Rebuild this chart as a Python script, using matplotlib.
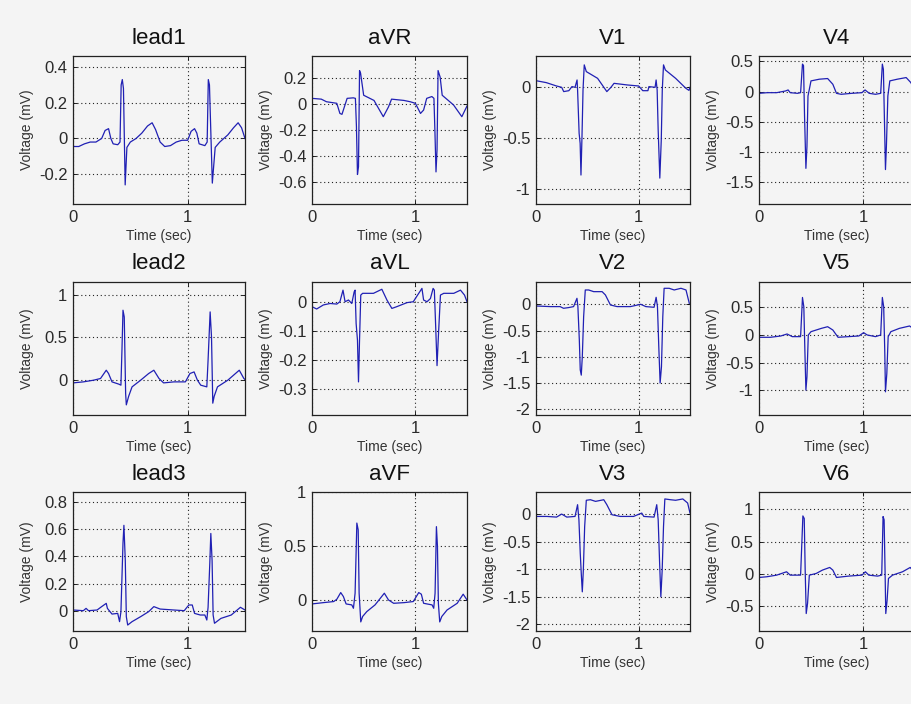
import matplotlib
matplotlib.use('Agg')
import matplotlib.pyplot as plt
from matplotlib.ticker import FormatStrFormatter

plt.rcParams['font.family'] = ['Liberation Sans', 'DejaVu Sans']
plt.rcParams['axes.unicode_minus'] = False

# ---- traces (time in sec, voltage in mV) ----
lead1_t = [0, 0.05, 0.10, 0.15, 0.20, 0.25, 0.28, 0.31, 0.33, 0.35, 0.39, 0.41, 0.42, 0.43, 0.44, 0.455,
           0.47, 0.50, 0.55, 0.60, 0.65, 0.69, 0.72, 0.76, 0.80, 0.85, 0.90, 0.95, 1.00, 1.03, 1.06, 1.08,
           1.10, 1.15, 1.17, 1.18, 1.19, 1.215, 1.24, 1.28, 1.35, 1.40, 1.44, 1.47, 1.50]
lead1_v = [-0.045, -0.045, -0.03, -0.02, -0.02, 0.0, 0.045, 0.055, 0.0, -0.03, -0.035, -0.02, 0.30, 0.33, 0.28, -0.26,
           -0.05, -0.02, 0.0, 0.03, 0.07, 0.088, 0.05, -0.02, -0.045, -0.04, -0.02, -0.01, -0.01, 0.04, 0.055, 0.03,
           -0.03, -0.04, -0.02, 0.33, 0.30, -0.25, -0.05, -0.02, 0.02, 0.06, 0.088, 0.06, 0.0]

aVR_t = [0, 0.09, 0.14, 0.24, 0.27, 0.29, 0.34, 0.40, 0.42, 0.43, 0.44, 0.45, 0.46, 0.47, 0.50, 0.60, 0.69, 0.74,
         0.77, 0.89, 0.95, 1.00, 1.05, 1.08, 1.11, 1.16, 1.18, 1.19, 1.20, 1.21, 1.22, 1.24, 1.26, 1.37, 1.45, 1.50]
aVR_v = [0.046, 0.04, 0.02, 0.008, -0.07, -0.077, 0.046, 0.05, 0.046, -0.17, -0.54, -0.48, 0.26, 0.24, 0.07, 0.03,
         -0.095, -0.02, 0.04, 0.03, 0.02, 0.008, -0.07, -0.044, 0.046, 0.06, 0.046, -0.22, -0.52, -0.35, 0.26, 0.21,
         0.07, -0.005, -0.095, -0.013]

V1_t = [0, 0.10, 0.20, 0.25, 0.27, 0.32, 0.35, 0.38, 0.40, 0.405, 0.42, 0.43, 0.438, 0.448, 0.458, 0.47, 0.49,
        0.60, 0.69, 0.73, 0.76, 0.89, 1.00, 1.04, 1.09, 1.10, 1.16, 1.17, 1.18, 1.19, 1.206, 1.22, 1.23, 1.242,
        1.26, 1.36, 1.46, 1.49, 1.50]
V1_v = [0.065, 0.046, 0.013, 0.0, -0.042, -0.033, 0.007, 0.0, 0.072, -0.026, -0.45, -0.55, -0.86, -0.48, -0.026,
        0.22, 0.154, 0.088, -0.042, 0.0, 0.039, 0.023, 0.013, -0.033, -0.033, 0.007, 0.0, 0.072, -0.026, -0.42,
        -0.89, -0.52, -0.026, 0.22, 0.17, 0.088, -0.01, -0.03, 0.0]

V4_t = [0, 0.08, 0.17, 0.255, 0.28, 0.30, 0.37, 0.40, 0.418, 0.428, 0.438, 0.451, 0.461, 0.471, 0.484, 0.50,
        0.58, 0.66, 0.71, 0.745, 0.79, 0.89, 0.99, 1.02, 1.06, 1.12, 1.17, 1.186, 1.196, 1.206, 1.216, 1.225,
        1.239, 1.258, 1.33, 1.415, 1.46, 1.50]
V4_v = [-0.028, -0.017, -0.017, 0.011, 0.028, -0.017, -0.028, -0.017, 0.456, 0.43, -0.41, -1.27, -0.91, -0.072,
        0.039, 0.178, 0.206, 0.217, 0.122, -0.028, -0.044, -0.028, -0.017, 0.028, -0.028, -0.044, -0.028, 0.456,
        0.37, -0.46, -1.29, -0.91, -0.072, 0.178, 0.206, 0.233, 0.15, 0.011]

lead2_t = [0, 0.09, 0.18, 0.24, 0.29, 0.31, 0.34, 0.40, 0.418, 0.427, 0.436, 0.447, 0.459, 0.465, 0.485, 0.515,
           0.59, 0.66, 0.705, 0.75, 0.79, 0.88, 0.98, 1.02, 1.056, 1.085, 1.114, 1.167, 1.178, 1.196, 1.208,
           1.219, 1.231, 1.26, 1.35, 1.45, 1.49, 1.50]
lead2_v = [-0.04, -0.028, -0.008, 0.012, 0.11, 0.071, -0.028, -0.055, -0.067, 0.35, 0.82, 0.74, -0.166, -0.30,
           -0.20, -0.087, -0.008, 0.071, 0.11, 0.012, -0.04, -0.028, -0.028, 0.071, 0.09, -0.008, -0.067, -0.087,
           0.23, 0.80, 0.50, -0.28, -0.20, -0.087, -0.008, 0.11, 0.012, 0.0]

aVL_t = [0, 0.045, 0.11, 0.175, 0.24, 0.27, 0.30, 0.32, 0.353, 0.385, 0.408, 0.417, 0.427, 0.44, 0.45, 0.46,
         0.472, 0.49, 0.595, 0.676, 0.725, 0.773, 0.82, 0.92, 0.98, 1.064, 1.08, 1.113, 1.146, 1.172, 1.184,
         1.197, 1.21, 1.223, 1.243, 1.275, 1.372, 1.437, 1.476, 1.50]
aVL_v = [-0.017, -0.025, -0.011, -0.006, -0.008, 0.0, 0.04, 0.0, 0.006, -0.006, 0.034, 0.04, -0.075, -0.132,
         -0.276, -0.132, 0.023, 0.029, 0.029, 0.043, 0.006, -0.023, -0.017, -0.003, 0.0, 0.046, 0.006, 0.0, 0.011,
         0.046, 0.04, -0.086, -0.22, -0.12, 0.023, 0.029, 0.029, 0.04, 0.023, 0.0]

V2_t = [0, 0.14, 0.235, 0.268, 0.317, 0.366, 0.399, 0.408, 0.422, 0.431, 0.441, 0.451, 0.464, 0.48, 0.513,
        0.562, 0.644, 0.676, 0.725, 0.79, 0.92, 1.02, 1.07, 1.15, 1.17, 1.183, 1.196, 1.209, 1.222, 1.235, 1.248,
        1.297, 1.346, 1.412, 1.461, 1.493]
V2_v = [-0.032, -0.044, -0.044, -0.076, -0.063, -0.044, 0.114, -0.044, -0.68, -1.25, -1.35, -1.0, -0.235, 0.273,
        0.273, 0.241, 0.241, 0.178, -0.013, -0.044, -0.044, 0.0, -0.044, -0.057, 0.133, -0.044, -0.81, -1.5,
        -1.19, -0.235, 0.305, 0.305, 0.273, 0.305, 0.273, 0.019]

V5_t = [0, 0.11, 0.21, 0.27, 0.32, 0.40, 0.418, 0.431, 0.441, 0.451, 0.461, 0.474, 0.50, 0.60, 0.66, 0.71, 0.76,
        0.86, 0.96, 1.006, 1.04, 1.12, 1.17, 1.186, 1.199, 1.209, 1.216, 1.229, 1.242, 1.268, 1.35, 1.448, 1.50]
V5_v = [-0.042, -0.042, -0.018, 0.018, -0.03, -0.03, 0.68, 0.51, -0.27, -1.0, -0.76, 0.0, 0.06, 0.12, 0.15, 0.09,
        -0.042, -0.03, -0.018, 0.042, 0.0, -0.03, 0.0, 0.68, 0.51, -0.27, -1.03, -0.7, -0.03, 0.06, 0.12, 0.163,
        0.09]

lead3_t = [0, 0.09, 0.114, 0.135, 0.21, 0.25, 0.29, 0.30, 0.34, 0.39, 0.406, 0.418, 0.436, 0.444, 0.456, 0.465,
           0.477, 0.515, 0.59, 0.66, 0.705, 0.76, 0.88, 0.97, 1.01, 1.04, 1.06, 1.11, 1.15, 1.167, 1.178, 1.193,
           1.202, 1.213, 1.222, 1.234, 1.29, 1.38, 1.46, 1.50]
lead3_v = [0.005, 0.0, 0.017, 0.0, 0.005, 0.03, 0.054, 0.017, -0.025, -0.02, -0.081, -0.007, 0.50, 0.63, 0.37,
           -0.044, -0.106, -0.081, -0.044, -0.007, 0.03, 0.012, 0.005, 0.0, 0.042, 0.042, -0.02, -0.032, -0.032,
           -0.069, 0.025, 0.35, 0.57, 0.37, -0.032, -0.093, -0.057, -0.032, 0.025, 0.005]

aVF_t = [0, 0.11, 0.21, 0.24, 0.278, 0.304, 0.33, 0.385, 0.401, 0.417, 0.434, 0.447, 0.456, 0.472, 0.49, 0.53,
         0.61, 0.70, 0.74, 0.79, 0.89, 0.98, 1.033, 1.058, 1.08, 1.162, 1.178, 1.191, 1.204, 1.214, 1.223, 1.236,
         1.256, 1.307, 1.405, 1.463, 1.50]
aVF_v = [-0.034, -0.022, -0.012, 0.009, 0.071, 0.034, -0.034, -0.043, -0.074, 0.065, 0.713, 0.65, 0.065, -0.2,
         -0.15, -0.105, -0.043, 0.065, 0.003, -0.028, -0.022, -0.012, 0.071, 0.056, -0.028, -0.043, -0.074, 0.065,
         0.68, 0.5, -0.028, -0.2, -0.15, -0.09, -0.028, 0.056, 0.003]

V3_t = [0, 0.105, 0.20, 0.25, 0.30, 0.38, 0.405, 0.418, 0.431, 0.441, 0.451, 0.461, 0.474, 0.49, 0.53, 0.58,
        0.66, 0.69, 0.74, 0.82, 0.95, 1.03, 1.05, 1.15, 1.176, 1.19, 1.203, 1.216, 1.229, 1.242, 1.255, 1.31,
        1.36, 1.43, 1.477, 1.50]
V3_v = [-0.043, -0.043, -0.055, 0.0, -0.055, -0.043, 0.17, -0.103, -0.71, -1.08, -1.41, -1.02, -0.225, 0.25,
        0.26, 0.23, 0.26, 0.17, -0.012, -0.043, -0.043, 0.018, -0.043, -0.055, 0.17, -0.103, -0.83, -1.5, -1.02,
        -0.225, 0.274, 0.26, 0.25, 0.274, 0.2, 0.018]

V6_t = [0, 0.075, 0.17, 0.265, 0.30, 0.40, 0.422, 0.435, 0.444, 0.454, 0.467, 0.484, 0.55, 0.61, 0.68, 0.71,
        0.745, 0.86, 0.99, 1.023, 1.056, 1.14, 1.18, 1.193, 1.203, 1.212, 1.219, 1.232, 1.245, 1.284, 1.38,
        1.454, 1.50]
V6_v = [-0.052, -0.041, -0.016, 0.036, -0.016, -0.016, 0.90, 0.86, 0.062, -0.61, -0.45, -0.016, 0.01, 0.062,
        0.103, 0.062, -0.052, -0.031, -0.016, 0.036, -0.016, -0.031, -0.016, 0.89, 0.84, 0.062, -0.61, -0.40,
        -0.067, -0.016, 0.036, 0.103, 0.01]

# panel order, row by row
names = ['lead1', 'aVR', 'V1', 'V4',
         'lead2', 'aVL', 'V2', 'V5',
         'lead3', 'aVF', 'V3', 'V6']
traces = {
    'lead1': (lead1_t, lead1_v), 'aVR': (aVR_t, aVR_v), 'V1': (V1_t, V1_v), 'V4': (V4_t, V4_v),
    'lead2': (lead2_t, lead2_v), 'aVL': (aVL_t, aVL_v), 'V2': (V2_t, V2_v), 'V5': (V5_t, V5_v),
    'lead3': (lead3_t, lead3_v), 'aVF': (aVF_t, aVF_v), 'V3': (V3_t, V3_v), 'V6': (V6_t, V6_v),
}
ylims = {
    'lead1': (-0.367, 0.462), 'aVR': (-0.767, 0.372), 'V1': (-1.144, 0.307), 'V4': (-1.86, 0.59),
    'lead2': (-0.42, 1.154), 'aVL': (-0.39, 0.068), 'V2': (-2.11, 0.425), 'V5': (-1.45, 0.96),
    'lead3': (-0.15, 0.876), 'aVF': (-0.284, 1.0), 'V3': (-2.12, 0.40), 'V6': (-0.88, 1.27),
}
yticks = {
    'lead1': [-0.2, 0, 0.2, 0.4], 'aVR': [-0.6, -0.4, -0.2, 0, 0.2], 'V1': [-1, -0.5, 0],
    'V4': [-1.5, -1, -0.5, 0, 0.5], 'lead2': [0, 0.5, 1], 'aVL': [-0.3, -0.2, -0.1, 0],
    'V2': [-2, -1.5, -1, -0.5, 0], 'V5': [-1, -0.5, 0, 0.5], 'lead3': [0, 0.2, 0.4, 0.6, 0.8],
    'aVF': [0, 0.5, 1], 'V3': [-2, -1.5, -1, -0.5, 0], 'V6': [-0.5, 0, 0.5, 1],
}
xticks = [0, 1]

# layout in pixels of the 912x704 picture
W, H = 912, 704
col_px = [(73, 245), (312, 467), (536, 690), (759, 915)]
row_px = [(56, 204), (282, 415), (492, 631)]

bg = '#f4f4f4'
fig = plt.figure(figsize=(W / 100, H / 100), dpi=100, facecolor=bg)

for i, name in enumerate(names):
    r, c = divmod(i, 4)
    x0, x1 = col_px[c]
    y0, y1 = row_px[r]
    ax = fig.add_axes([x0 / W, 1 - y1 / H, (x1 - x0) / W, (y1 - y0) / H])
    ax.set_facecolor(bg)
    t, v = traces[name]
    ax.plot(t, v, color='#2020b4', lw=0.9)
    ax.set_xlim(0, 1.5)
    ax.set_ylim(*ylims[name])
    ax.set_xticks(xticks)
    ax.set_yticks(yticks[name])
    ax.xaxis.set_major_formatter(FormatStrFormatter('%g'))
    ax.yaxis.set_major_formatter(FormatStrFormatter('%g'))
    ax.grid(True, color='#222222', linestyle=(0, (1, 2.5)), lw=0.8)
    ax.tick_params(direction='in', length=3, width=0.6, top=True, right=True,
                   labelsize=12, labelcolor='#2a2a2a', pad=4)
    for s in ax.spines.values():
        s.set_color('#222222')
        s.set_linewidth(0.9)
    ax.set_title(name, fontsize=16, pad=9, color='#111111')
    ax.set_xlabel('Time (sec)', fontsize=10, color='#333333')
    ax.set_ylabel('Voltage (mV)', fontsize=10, color='#333333')
    ax.xaxis.set_label_coords(0.5, -25 / (y1 - y0))
    ax.yaxis.set_label_coords(-39 / (x1 - x0), 0.5)

fig.savefig('out.png', dpi=100, facecolor=bg)
